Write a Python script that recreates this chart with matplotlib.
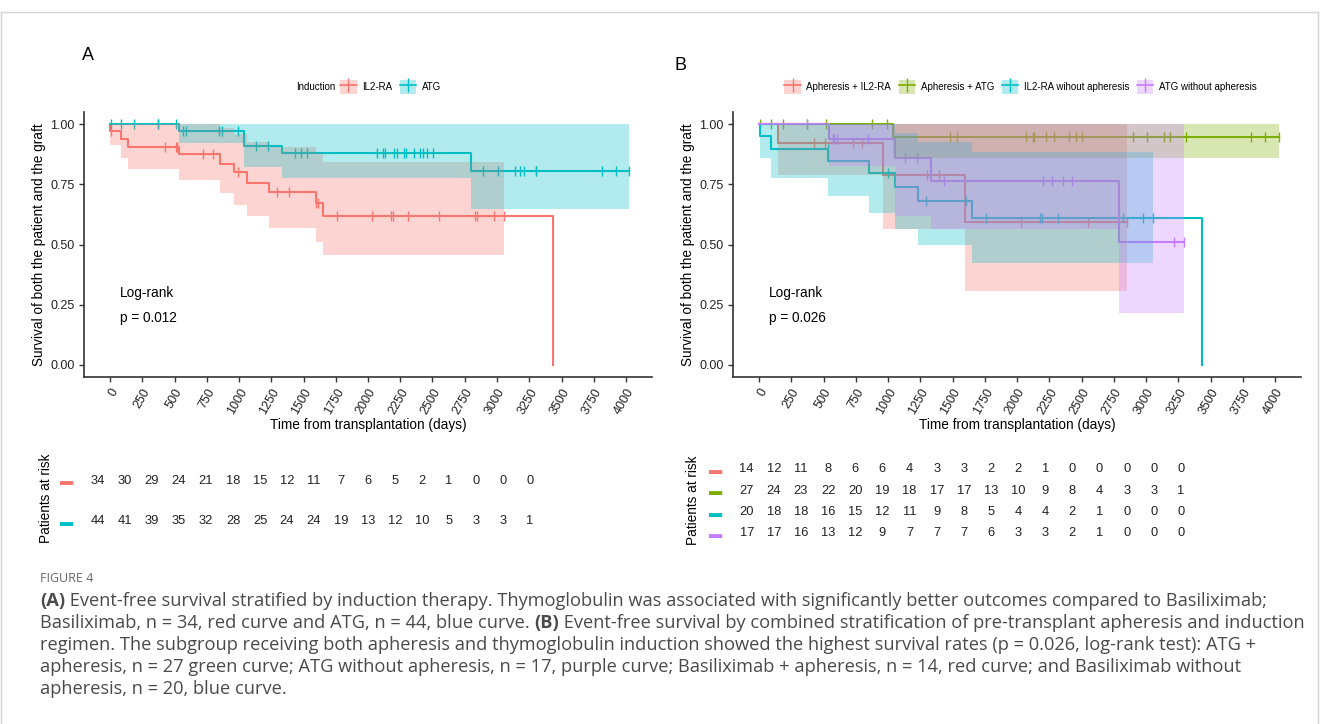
import numpy as np
import matplotlib
matplotlib.use("Agg")
import matplotlib.pyplot as plt
from matplotlib.patches import Patch
from matplotlib.lines import Line2D
from matplotlib.legend_handler import HandlerTuple

plt.rcParams['font.family'] = ['Liberation Sans', 'DejaVu Sans']

# ---- panel A: induction ----
il2_t = [0, 3, 83, 142, 537, 853, 964, 1065, 1235, 1597, 1654, 3432]
il2_s = [1.0, 0.971, 0.941, 0.907, 0.876, 0.834, 0.800, 0.758, 0.718, 0.672, 0.621, 0.0]
il2_end = 3432
il2_cens = [8, 426, 512, 522, 723, 796, 990, 1292, 1390, 1597, 1610, 1757, 2028,
            2178, 2191, 2313, 2553, 2830, 2848, 2977, 3054]
il2_bt = [3, 83, 142, 537, 853, 964, 1065, 1235, 1597, 1654]
il2_lo = [0.914, 0.862, 0.816, 0.770, 0.716, 0.665, 0.617, 0.571, 0.513, 0.456]
il2_hi = [1.0, 1.0, 1.0, 1.0, 0.985, 0.96, 0.928, 0.905, 0.88, 0.845]
il2_bend = 3054

atg_t = [0, 537, 1038, 1336, 2796]
atg_s = [1.0, 0.972, 0.91, 0.88, 0.808]
atg_end = 4026
atg_cens = [8, 83, 186, 369, 375, 512, 563, 587, 848, 866, 992, 1132, 1222, 1434, 1478,
            1530, 2067, 2119, 2132, 2204, 2222, 2279, 2292, 2357, 2403, 2429, 2460, 2506,
            2894, 3008, 3140, 3178, 3212, 3300, 3305, 3816, 3925, 4026]
atg_bt = [537, 1038, 1336, 2796]
atg_lo = [0.924, 0.824, 0.776, 0.65]
atg_hi = [1.0, 1.0, 1.0, 1.0]
atg_bend = 4026

# ---- panel B: apheresis x induction ----
ai_t = [0, 145, 964, 1597]
ai_s = [1.0, 0.924, 0.789, 0.593]
ai_end = 2850
ai_cens = [426, 512, 726, 796, 1300, 1398, 2028, 2553, 2850]
ai_bt = [145, 964, 1597]
ai_lo = [0.79, 0.564, 0.307]
ai_hi = [1.0, 1.0, 1.0]
ai_bend = 2850

aa_t = [0, 1040]
aa_s = [1.0, 0.949]
aa_end = 4031
aa_cens = [10, 90, 189, 375, 519, 873, 990, 1481, 1533, 2070, 2122, 2132, 2222, 2289,
           2406, 2457, 2506, 2897, 3010, 3142, 3186, 3308, 3814, 3925, 4031]
aa_bt = [1040]
aa_lo = [0.86]
aa_hi = [1.0]
aa_bend = 4031

iw_t = [0, 5, 90, 537, 855, 1054, 1234, 1649, 3434]
iw_s = [1.0, 0.95, 0.897, 0.848, 0.796, 0.738, 0.681, 0.612, 0.0]
iw_end = 3434
iw_cens = [532, 997, 1295, 1605, 1760, 2178, 2191, 2315, 2824, 2974, 3057]
iw_bt = [5, 90, 537, 855, 1054, 1234, 1649]
iw_lo = [0.859, 0.776, 0.702, 0.633, 0.564, 0.499, 0.423]
iw_hi = [1.0, 1.0, 1.0, 1.0, 0.963, 0.928, 0.886]
iw_bend = 3057

aw_t = [0, 545, 1054, 1334, 2793]
aw_s = [1.0, 0.937, 0.859, 0.765, 0.509]
aw_end = 3297
aw_cens = [375, 571, 584, 602, 842, 1132, 1222, 1434, 2204, 2271, 2359, 2424, 3217, 3297]
aw_bt = [545, 1054, 1334, 2793]
aw_lo = [0.827, 0.62, 0.564, 0.216]
aw_hi = [1.0, 1.0, 1.0, 1.0]
aw_bend = 3297

# ---- risk tables ----
risk_days = list(range(0, 4001, 250))
risk_il2 = [34, 30, 29, 24, 21, 18, 15, 12, 11, 7, 6, 5, 2, 1, 0, 0, 0]
risk_atg = [44, 41, 39, 35, 32, 28, 25, 24, 24, 19, 13, 12, 10, 5, 3, 3, 1]
risk_ai = [14, 12, 11, 8, 6, 6, 4, 3, 3, 2, 2, 1, 0, 0, 0, 0, 0]
risk_aa = [27, 24, 23, 22, 20, 19, 18, 17, 17, 13, 10, 9, 8, 4, 3, 3, 1]
risk_iw = [20, 18, 18, 16, 15, 12, 11, 9, 8, 5, 4, 4, 2, 1, 0, 0, 0]
risk_aw = [17, 17, 16, 13, 12, 9, 7, 7, 7, 6, 3, 3, 2, 1, 0, 0, 0]

RED, TEAL, GREEN, PURPLE = '#F8766D', '#00BFC4', '#7CAE00', '#C77CFF'

W, H = 1320, 724
fig = plt.figure(figsize=(W / 100, H / 100), dpi=100)


def box(x0, y0, x1, y1):
    # pixel box (top-left origin) -> figure fraction rect
    return [x0 / W, 1 - y1 / H, (x1 - x0) / W, (y1 - y0) / H]


def km(ax, t, s, end, cens, bt, lo, hi, bend, color):
    ax.step(list(t) + [end], list(s) + [s[-1]], where='post', color=color, lw=1.5, zorder=2)
    idx = np.searchsorted(t, cens, side='right') - 1
    ax.plot(cens, np.array(s)[idx], ls='none', marker='|', ms=7.5, mew=1.0, color=color, zorder=2)
    ax.fill_between(list(bt) + [bend], list(lo) + [lo[-1]], list(hi) + [hi[-1]],
                    step='post', color=color, alpha=0.3, lw=0, zorder=3)


def style(ax, pval):
    for side in ['top', 'right']:
        ax.spines[side].set_visible(False)
    for side in ['left', 'bottom']:
        ax.spines[side].set_color('#333333')
        ax.spines[side].set_linewidth(1.2)
    ax.set_xlim(-200, 4200)
    ax.set_ylim(-0.05, 1.05)
    ax.set_xticks(risk_days)
    ax.set_xticklabels([str(d) for d in risk_days], rotation=60, ha='right',
                       rotation_mode='anchor')
    ax.set_yticks([0, 0.25, 0.5, 0.75, 1.0])
    ax.set_yticklabels(['0.00', '0.25', '0.50', '0.75', '1.00'])
    ax.tick_params(colors='#333333', length=3.5, width=1, labelsize=9, labelcolor='#222222')
    ax.set_xlabel('Time from transplantation (days)', fontsize=9.8, labelpad=1)
    ax.set_ylabel('Survival of both the patient and the graft', fontsize=9.8, labelpad=3)
    ax.text(80, 0.30, 'Log-rank', fontsize=9.8, va='center')
    ax.text(80, 0.195, 'p = ' + pval, fontsize=9.8, va='center')


def table(ax, rows, colors):
    n = len(rows)
    ax.set_xlim(-200, 4200)
    ax.set_ylim(0.5, n + 0.5)
    for i, r in enumerate(rows):
        for d, v in zip(risk_days, r):
            ax.text(d, n - i, str(v), ha='center', va='center', fontsize=9.3, color='#222222')
    ax.set_xticks([])
    ax.set_yticks([n - i for i in range(n)])
    ax.set_yticklabels(['\u25AC'] * n, fontsize=9.5)
    for lab, c in zip(ax.get_yticklabels(), colors):
        lab.set_color(c)
    ax.tick_params(axis='y', length=0, pad=2)
    for sp in ax.spines.values():
        sp.set_visible(False)


def key(color):
    return (Patch(facecolor=color, alpha=0.3, lw=0),
            Line2D([], [], color=color, lw=1.2, marker='|', ms=10, mew=1.0))


leg_kw = dict(frameon=False, fontsize=7.0, handler_map={tuple: HandlerTuple(ndivide=1)},
              handlelength=1.7, handleheight=1.7, handletextpad=0.55, columnspacing=0.8,
              borderpad=0, borderaxespad=0)

# panel A
axA = fig.add_axes(box(84.2, 112.3, 651.8, 377))
km(axA, il2_t, il2_s, il2_end, il2_cens, il2_bt, il2_lo, il2_hi, il2_bend, RED)
km(axA, atg_t, atg_s, atg_end, atg_cens, atg_bt, atg_lo, atg_hi, atg_bend, TEAL)
style(axA, '0.012')
axA.legend([key(RED), key(TEAL)], ['IL2-RA', 'ATG'], ncol=2, loc='center left',
           bbox_to_anchor=(0.4507, 1.0956), **leg_kw)
axA.text(0.4507 - 0.008, 1.0956, 'Induction', transform=axA.transAxes, ha='right',
         va='center', fontsize=7.0)

# panel B
axB = fig.add_axes(box(733.2, 112.3, 1300.8, 377))
km(axB, ai_t, ai_s, ai_end, ai_cens, ai_bt, ai_lo, ai_hi, ai_bend, RED)
km(axB, aa_t, aa_s, aa_end, aa_cens, aa_bt, aa_lo, aa_hi, aa_bend, GREEN)
km(axB, iw_t, iw_s, iw_end, iw_cens, iw_bt, iw_lo, iw_hi, iw_bend, TEAL)
km(axB, aw_t, aw_s, aw_end, aw_cens, aw_bt, aw_lo, aw_hi, aw_bend, PURPLE)
style(axB, '0.026')
axB.legend([key(RED), key(GREEN), key(TEAL), key(PURPLE)],
           ['Apheresis + IL2-RA', 'Apheresis + ATG', 'IL2-RA wihout apheresis',
            'ATG without apheresis'], ncol=4, loc='center',
           bbox_to_anchor=(0.506, 1.0956), **leg_kw)

# risk tables
tA = fig.add_axes(box(76.4, 460.5, 551.6, 541.2))
table(tA, [risk_il2, risk_atg], [RED, TEAL])
tB = fig.add_axes(box(725, 458.7, 1202.7, 544))
table(tB, [risk_ai, risk_aa, risk_iw, risk_aw], [RED, GREEN, TEAL, PURPLE])
fig.text(46 / W, 1 - 498 / H, 'Patients at risk', rotation=90, ha='center', va='center',
         fontsize=9.8)
fig.text(693 / W, 1 - 500 / H, 'Patients at risk', rotation=90, ha='center', va='center',
         fontsize=9.8)

# panel letters
fig.text(82 / W, 1 - 55 / H, 'A', fontsize=13, va='center')
fig.text(674 / W, 1 - 65 / H, 'B', fontsize=13, va='center')

# frame
for xs, ys in [([1, 1], [12, H]), ([W - 2, W - 2], [12, H]), ([1, W - 2], [12, 12])]:
    fig.add_artist(Line2D([x / W for x in xs], [1 - y / H for y in ys], color='#d5d5d5', lw=1))

# caption
cap_font = ['Open Sans', 'DejaVu Sans']
fig.text(40 / W, 1 - 578 / H, 'FIGURE 4', fontsize=9, color='#666666', va='center',
         family=cap_font)
cap_lines = [
    [('(A)', True), (' Event-free survival stratified by induction therapy. Thymoglobulin was '
                     'associated with significantly better outcomes compared to Basiliximab;', False)],
    [('Basiliximab, n = 34, red curve and ATG, n = 44, blue curve. ', False), ('(B)', True),
     (' Event-free survival by combined stratification of pre-transplant apheresis and induction', False)],
    [('regimen. The subgroup receiving both apheresis and thymoglobulin induction showed the '
      'highest survival rates (p = 0.026, log-rank test): ATG +', False)],
    [('apheresis, n = 27 green curve; ATG without apheresis, n = 17, purple curve; Basiliximab + '
      'apheresis, n = 14, red curve; and Basiliximab without', False)],
    [('apheresis, n = 20, blue curve.', False)],
]
cap_y = [601, 623, 645, 667, 689]
r = fig.canvas.get_renderer()

# fit the longest line (line 2, with its bold part) to the width seen in the figure
probe_w = 0
for txt, bold in cap_lines[1]:
    p = fig.text(0, 0, txt, fontsize=12, family=cap_font, weight='bold' if bold else 'normal')
    probe_w += p.get_window_extent(renderer=r).width
    p.remove()
cap_size = 12 * 1258 / probe_w

for parts, y in zip(cap_lines, cap_y):
    x = 40
    for txt, bold in parts:
        t = fig.text(x / W, 1 - y / H, txt, fontsize=cap_size, color='#4a4a4a', va='center',
                     family=cap_font, weight='bold' if bold else 'normal')
        x += t.get_window_extent(renderer=r).width

fig.savefig('out.png', dpi=100)
